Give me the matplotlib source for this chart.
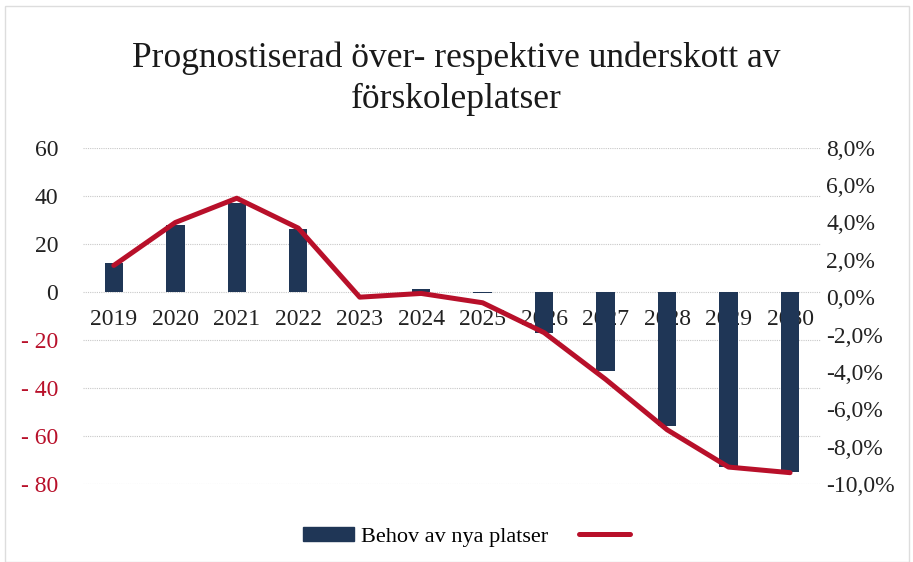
import numpy as np
import matplotlib.pyplot as plt
from matplotlib.ticker import FuncFormatter
from matplotlib.lines import Line2D
from matplotlib.patches import Patch, Rectangle

years = ["2019", "2020", "2021", "2022", "2023", "2024", "2025",
         "2026", "2027", "2028", "2029", "2030"]
behov = [12, 28, 37, 26, 0, 1, -0.5, -17, -33, -56, -73, -75]
andel = [1.7, 4.0, 5.3, 3.7, 0.0, 0.2, -0.3, -1.9, -4.4, -7.1, -9.1, -9.4]

bar_color = "#1f3656"
line_color = "#b8102a"

plt.rcParams["font.family"] = ["Liberation Serif", "DejaVu Serif"]

fig = plt.figure(figsize=(9.13, 5.62), dpi=100)
ax = fig.add_axes([0.091, 0.139, 0.808, 0.598])
ax2 = ax.twinx()

x = np.arange(len(years))
ax.bar(x, behov, width=0.3, color=bar_color, zorder=2)
ax2.plot(x, np.array(andel) / 100, color=line_color, lw=3.6,
         solid_capstyle="round", solid_joinstyle="round", zorder=3)

ax.set_xlim(-0.5, len(years) - 0.5)
ax.set_ylim(-80, 60)
ax.set_yticks(np.arange(-80, 61, 20))
ax2.set_ylim(-0.10, 0.08)
ax2.set_yticks(np.arange(-0.10, 0.081, 0.02))

ax.yaxis.grid(True, color="#c8c8c8", lw=0.8, ls=(0, (1, 1)), zorder=0)
ax.set_axisbelow(True)

def left_fmt(v, pos):
    v = int(round(v))
    return f"- {abs(v)}" if v < 0 else f"{v}"

ax.yaxis.set_major_formatter(FuncFormatter(left_fmt))
ax2.yaxis.set_major_formatter(
    FuncFormatter(lambda v, pos: f"{v*100:.1f}%".replace(".", ",")))

for lbl in ax.get_yticklabels():
    lbl.set_fontsize(17)
for t, v in zip(ax.get_yticklabels(), ax.get_yticks()):
    t.set_color(line_color if v < 0 else "#222222")
ax2.tick_params(axis="y", labelsize=17, length=0, pad=4, labelcolor="#222222")
ax.tick_params(axis="y", length=0, pad=18)

ax.set_xticks([])
for xi, yr in zip(x, years):
    ax.text(xi, -11.5, yr, ha="center", va="center", fontsize=17,
            color="#222222", zorder=1)

for a in (ax, ax2):
    for s in a.spines.values():
        s.set_visible(False)

fig.text(0.5, 0.86, "Prognostiserad över- respektive underskott av\nförskoleplatser",
         ha="center", va="center", fontsize=25.5, linespacing=1.3, color="#1a1a1a")

handles = [Patch(color=bar_color, label="Behov av nya platser"),
           Line2D([0], [0], color=line_color, lw=3.6, solid_capstyle="round", label=" ")]
fig.legend(handles=handles, loc="center", bbox_to_anchor=(0.518, 0.045), ncol=2,
           frameon=False, fontsize=16, handlelength=2.3, handleheight=0.6,
           columnspacing=1.4, handletextpad=0.3)

fig.patches.append(Rectangle((0.006, 0.0), 0.99, 0.99, transform=fig.transFigure,
                             fill=False, ec="#dddddd", lw=1))

fig.savefig("out.png", dpi=100)
